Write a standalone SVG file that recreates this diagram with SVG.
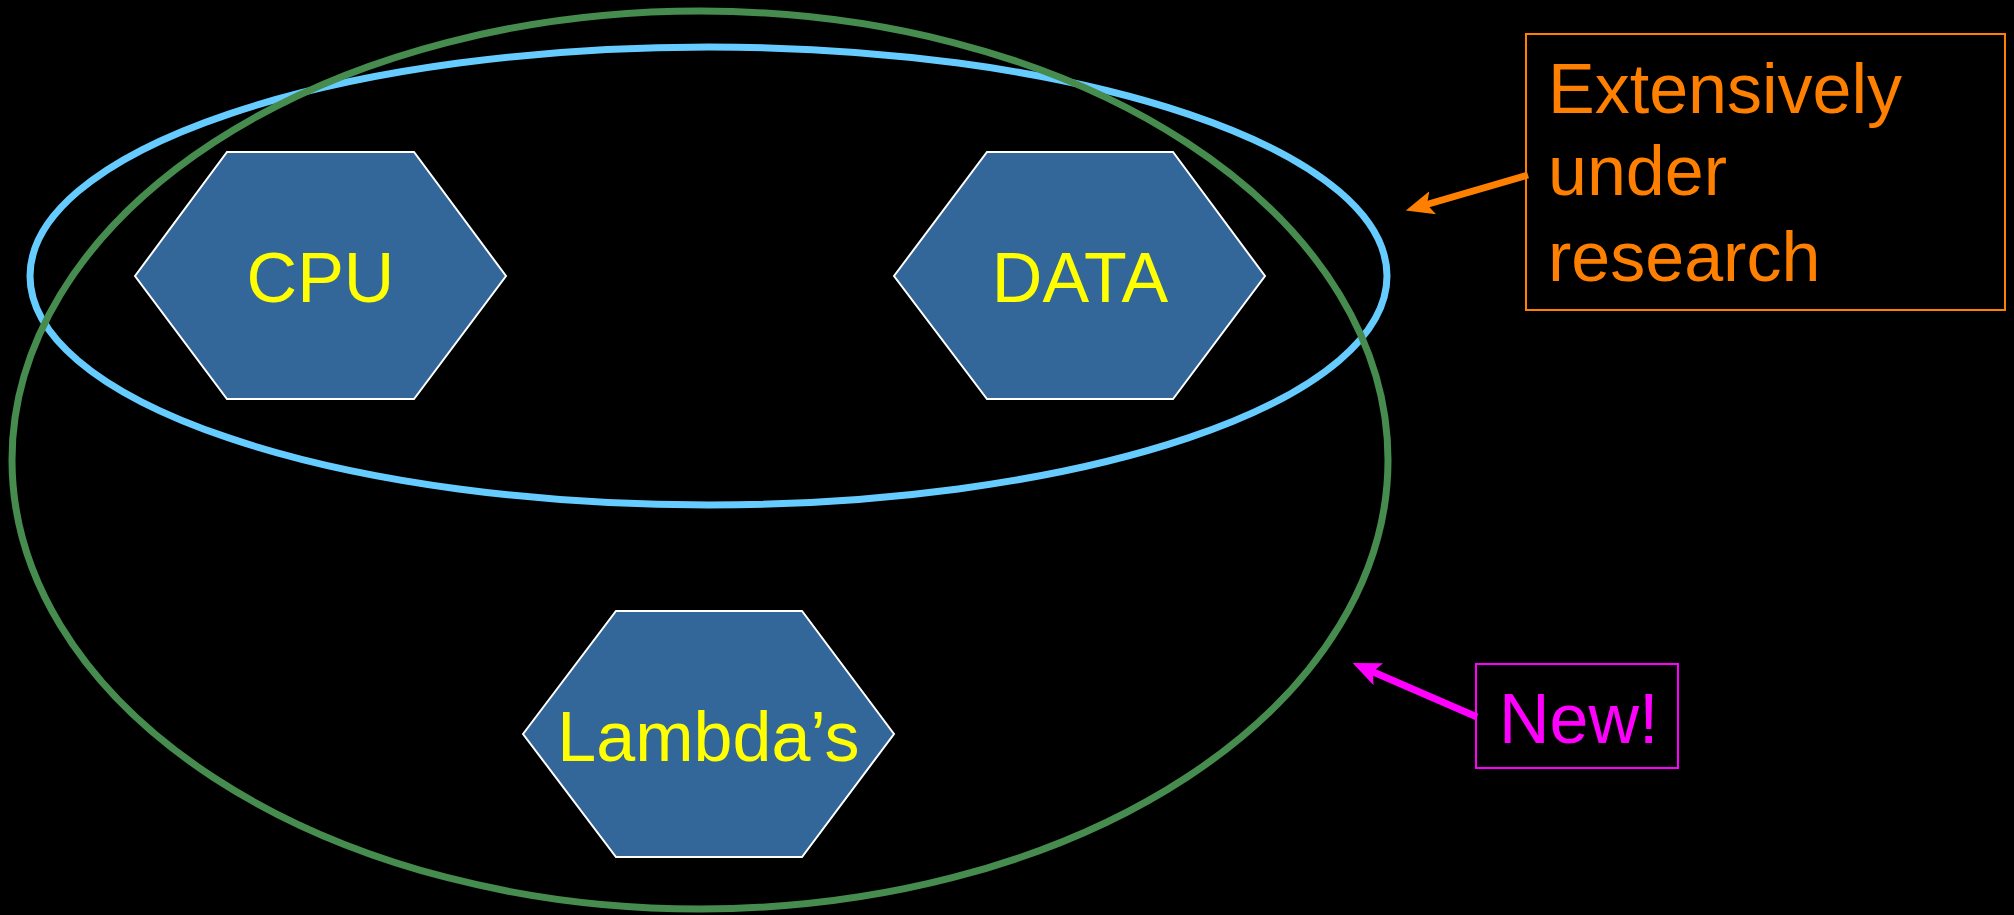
<svg xmlns="http://www.w3.org/2000/svg" width="2014" height="915" viewBox="0 0 2014 915">
<style>
.hex{fill:#336699;stroke:#FFFFFF;stroke-width:2}
.lbl{font-family:"Liberation Sans",Arial,sans-serif;font-size:70px;fill:#FFFF00;text-anchor:middle}
.note{font-family:"Liberation Sans",Arial,sans-serif;font-size:70px}
</style>
<defs>
<marker id="ahO" markerUnits="userSpaceOnUse" markerWidth="30" markerHeight="30" viewBox="0 0 30 30" refX="8" refY="15" orient="auto">
<path d="M0,3 L28,15 L0,27 L6,15 Z" fill="#FF8000"/>
</marker>
<marker id="ahM" markerUnits="userSpaceOnUse" markerWidth="30" markerHeight="30" viewBox="0 0 30 30" refX="8" refY="15" orient="auto">
<path d="M0,3 L28,15 L0,27 L6,15 Z" fill="#FF00FF"/>
</marker>
</defs>
<rect width="2014" height="915" fill="#000000"/>
<g id="ellipses">
<ellipse id="blue-ellipse" cx="708.5" cy="276" rx="678.5" ry="229" fill="none" stroke="#66CCFF" stroke-width="7"/>
<ellipse id="green-ellipse" cx="700" cy="460" rx="688" ry="449" fill="none" stroke="#468C4E" stroke-width="7"/>
</g>
<g id="cpu">
<polygon class="hex" points="135,276 227,152 414,152 506,276 414,399 227,399"/>
<text class="lbl" x="320.5" y="302">CPU</text>
</g>
<g id="data">
<polygon class="hex" points="894,276 987,152 1173,152 1265,276 1173,399 987,399"/>
<text class="lbl" x="1080" y="302">DATA</text>
</g>
<g id="lambdas">
<polygon class="hex" points="523,734 616,611 802,611 894,734 802,857 616,857"/>
<text class="lbl" x="708.5" y="761">Lambda’s</text>
</g>
<g id="note-research">
<rect x="1526" y="34" width="479" height="276" fill="none" stroke="#FF8000" stroke-width="2"/>
<text class="note" fill="#FF8000"><tspan x="1548" y="113">Extensively</tspan><tspan x="1548" y="195">under</tspan><tspan x="1548" y="281">research</tspan></text>
</g>
<g id="note-new">
<rect x="1476" y="664" width="202" height="104" fill="none" stroke="#FF00FF" stroke-width="2"/>
<text class="note" fill="#FF00FF" x="1499" y="743">New!</text>
</g>
<g id="connectors">
<line x1="1528" y1="175" x2="1425" y2="205" stroke="#FF8000" stroke-width="7" marker-end="url(#ahO)"/>
<line x1="1477" y1="717" x2="1371" y2="671" stroke="#FF00FF" stroke-width="7" marker-end="url(#ahM)"/>
</g>
</svg>
